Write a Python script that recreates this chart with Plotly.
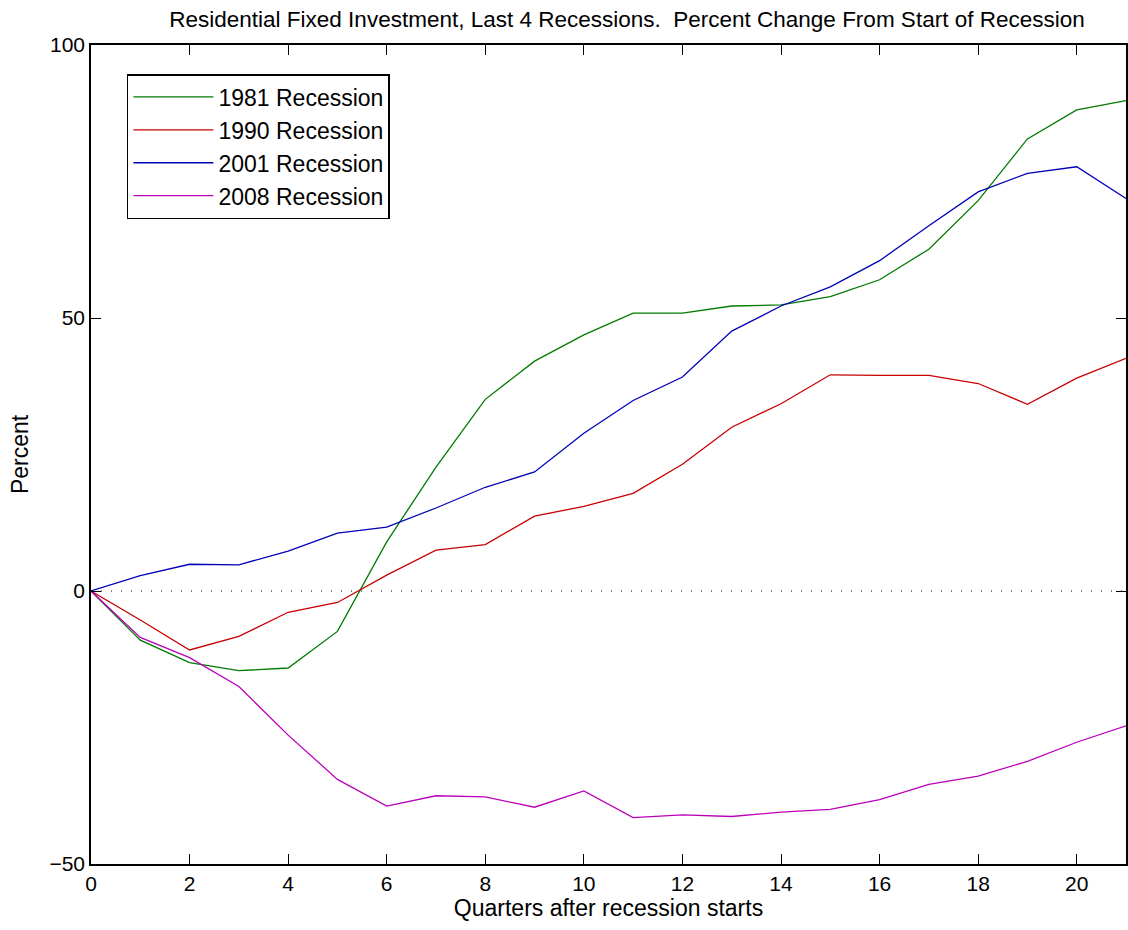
import plotly.graph_objects as go

quarters = list(range(0, 22))

r1981 = [0, -9.0, -13.1, -14.6, -14.1, -7.4, 9.0, 22.7, 35.1, 42.1, 46.9, 50.9,
         50.9, 52.2, 52.4, 53.9, 57.0, 62.6, 71.5, 82.8, 88.1, 89.8]
r1990 = [0, -5.3, -10.8, -8.3, -3.9, -2.1, 2.9, 7.5, 8.5, 13.7, 15.5, 17.9,
         23.2, 30.0, 34.3, 39.6, 39.5, 39.5, 38.0, 34.2, 39.0, 42.6]
r2001 = [0, 2.8, 4.9, 4.8, 7.3, 10.6, 11.7, 15.2, 19.0, 21.8, 28.9, 34.9,
         39.2, 47.6, 52.2, 55.7, 60.5, 66.9, 73.1, 76.5, 77.7, 71.9]
r2008 = [0, -8.5, -12.2, -17.5, -26.4, -34.5, -39.4, -37.5, -37.7, -39.6, -36.6, -41.5,
         -41.0, -41.3, -40.5, -40.0, -38.2, -35.4, -33.9, -31.2, -27.7, -24.7]

series_names = ["1981 Recession", "1990 Recession", "2001 Recession", "2008 Recession"]
series_values = [r1981, r1990, r2001, r2008]
series_colors = ["#007a00", "#c80000", "#0000b8", "#bb00bb"]

x_ticks = [0, 2, 4, 6, 8, 10, 12, 14, 16, 18, 20]
y_ticks = [-50, 0, 50, 100]
y_tick_text = ["\u221250", "0", "50", "100"]

FONT = "Liberation Sans, Arial, sans-serif"

fig = go.Figure()
for name, vals, col in zip(series_names, series_values, series_colors):
    fig.add_trace(go.Scatter(x=quarters, y=vals, mode="lines", name=name,
                             line=dict(color=col, width=1.3)))

# dotted zero line
fig.add_trace(go.Scatter(x=[quarters[0], quarters[-1]], y=[0, 0], mode="lines",
                         showlegend=False, hoverinfo="skip",
                         line=dict(color="black", width=1, dash="1px,9px")))

fig.update_layout(
    width=1128, height=930,
    margin=dict(l=91, r=0, t=45, b=66),
    paper_bgcolor="white", plot_bgcolor="white",
    font=dict(family=FONT, size=21, color="black"),
    title=dict(text="Residential Fixed Investment, Last 4 Recessions.  Percent Change From Start of Recession",
               x=627/1128, xref="container", xanchor="center",
               y=1 - 19/930, yref="container", yanchor="middle",
               font=dict(family=FONT, size=22.5, color="black")),
    showlegend=True,
    legend=dict(x=(127-91)/1037, y=(864-74)/819, xanchor="left", yanchor="top",
                bgcolor="white", bordercolor="black", borderwidth=1.5,
                font=dict(family=FONT, size=23, color="black"),
                itemwidth=80, tracegroupgap=0),
)

fig.update_xaxes(range=[0, 21], tickvals=x_ticks, ticks="inside", ticklen=10,
                 tickcolor="black", tickwidth=1, showline=True, linecolor="black",
                 linewidth=1.5, mirror="ticks", showgrid=False, zeroline=False,
                 tickfont=dict(family=FONT, size=21),
                 title=dict(text="Quarters after recession starts", standoff=6,
                            font=dict(family=FONT, size=23)))
fig.update_yaxes(range=[-50, 100], tickvals=y_ticks, ticktext=y_tick_text,
                 ticks="inside", ticklen=10,
                 tickcolor="black", tickwidth=1, showline=True, linecolor="black",
                 linewidth=1.5, mirror="ticks", showgrid=False, zeroline=False,
                 tickfont=dict(family=FONT, size=21),
                 title=dict(text="Percent", standoff=14,
                            font=dict(family=FONT, size=23)))

fig.write_html("out.html")
